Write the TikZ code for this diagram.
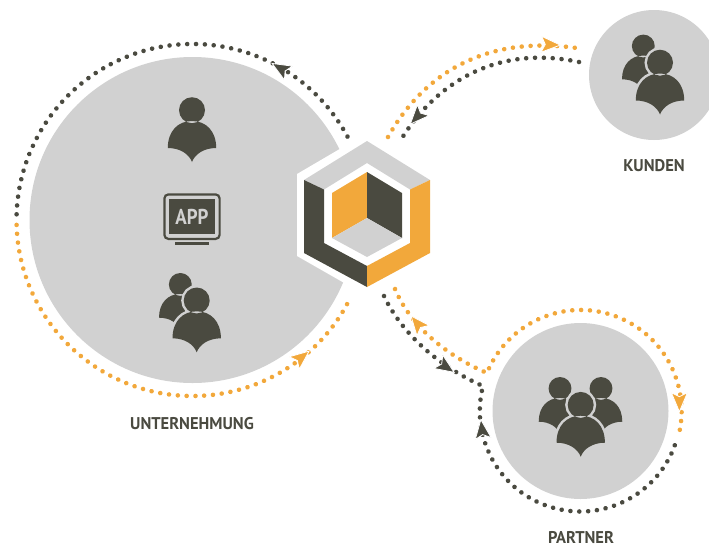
\documentclass[tikz,border=0pt]{standalone}
\usepackage{fontspec}
\setmainfont{PT Sans}
\usepackage{xcolor}
\usetikzlibrary{decorations.markings}
\definecolor{anthrazit}{rgb}{.29, .29, .25}
\definecolor{bernstein}{rgb}{.95, .66, .23}
\definecolor{hellgrau}{rgb}{.82, .82, .82}

\newcommand{\kopfbody}{(0,37.8) circle[radius=13]
	(-24.2,0) .. controls (-24.2,17) and (-14,27) .. (0,27)
	.. controls (14,27) and (24.2,17) .. (24.2,0)
	.. controls (12,0) and (3,-6) .. (0,-14)
	.. controls (-3,-6) and (-12,0) .. (-24.2,0) -- cycle}

\tikzset{
	dots/.style={decorate, decoration={markings,
		mark=between positions 0 and 1 step 8.85pt with {\fill[#1] (0,0) circle[radius=2.3];}}},
	kreis/.style={circle, fill=hellgrau, inner sep=0pt},
	titel/.style={anthrazit, font=\bfseries\fontsize{17}{17}\selectfont},
	pics/person/.style={code={
		\path[draw=hellgrau, fill=hellgrau, line width=5pt] \kopfbody;
		\fill[anthrazit] \kopfbody;
	}},
	pics/spitze/.style={code={
		\path[fill=#1, draw=white, line width=.8pt]
			(11,0) -- (-8,-8) -- (-4,0) -- (-8,8) -- cycle;
	}},
}

\begin{document}
\begin{tikzpicture}[x=1pt, y=1pt, yscale=-1]
	\useasboundingbox (0,0) rectangle (709,547);

	\node[kreis, minimum size=326pt] (unternehmung) at (192.5,220) {};
	\node[kreis, minimum size=130pt] (kunden) at (654,75) {};
	\node[kreis, minimum size=176pt] (partner) at (580.5,411) {};

	% ends of the curved links
	\coordinate (kundenA) at (388,137);
	\coordinate (kundenB) at (583,49);
	\coordinate (kundenC) at (579,62);
	\coordinate (kundenD) at (399,143);
	\coordinate (partnerA) at (395,289);
	\coordinate (partnerB) at (487,373);
	\coordinate (partnerC) at (384,296);
	\coordinate (partnerD) at (483,386);

	\path[dots=anthrazit] ([shift={(-28.3:176)}]unternehmung.center)
		arc[start angle=-28.3, end angle=-179, radius=176];
	\path[dots=bernstein] ([shift={(178.4:176)}]unternehmung.center)
		arc[start angle=178.4, end angle=25.7, radius=176];

	\path[dots=bernstein] (kundenA) .. controls (420,80) and (480,32) .. (kundenB);
	\path[dots=anthrazit] (kundenC) .. controls (490,43) and (430,90) .. (kundenD);

	\path[dots=bernstein] (partnerA) .. controls (410,325) and (445,355) .. (partnerB)
		arc[start angle=-157.9, end angle=13.8, radius=101];
	\path[dots=anthrazit] (partnerC) .. controls (400,330) and (435,365) .. (partnerD)
		arc[start angle=194.4, end angle=18.5, radius=100.5];

	\pic[rotate=149.6] at (281.6,69) {spitze=anthrazit};
	\pic[rotate=38.8] at (300.5,358) {spitze=bernstein};
	\pic[rotate=129.6] at (418,324.4) {spitze=bernstein};
	\pic[rotate=-33.7] at (445,366.2) {spitze=anthrazit};
	\pic[rotate=-2.4] at (549.3,44.6) {spitze=bernstein};
	\pic[rotate=-132.9] at (417.8,116) {spitze=anthrazit};
	\pic[rotate=-90] at (679.4,400.7) {spitze=bernstein};
	\pic[rotate=97] at (482.2,430.6) {spitze=anthrazit};

	% hexagon
	\fill[white] (367,133) -- (437,174) -- (437,256) -- (367,296) -- (297,256) -- (297,174) -- cycle;
	\fill[hellgrau] (367,141) -- (430,180) -- (410,189.5) -- (367,163) -- (324,189.5) -- (304,180) -- cycle;
	\fill[anthrazit] (304,180) -- (324,189.5) -- (324,243) -- (367,266) -- (367,287) -- (304,253) -- cycle;
	\fill[bernstein] (430,180) -- (410,189.5) -- (410,243) -- (367,266) -- (367,287) -- (430,253) -- cycle;
	\fill[bernstein] (367,172) -- (332,193) -- (332,238) -- (367,218) -- cycle;
	\fill[anthrazit] (367,172) -- (402,193) -- (402,238) -- (367,218) -- cycle;
	\fill[hellgrau] (367,218) -- (332,238) -- (367,257) -- (402,238) -- cycle;

	% people
	\pic at (192,148) {person};

	\pic[scale=.88] at (180.3,317.7) {person};
	\pic at (196.7,338.3) {person};

	\pic[scale=.88] at (643.3,79.3) {person};
	\pic at (660,100.5) {person};

	\pic[scale=.88] at (560,421.7) {person};
	\pic[scale=.88] at (601,421.7) {person};
	\pic at (580.7,442.7) {person};

	% screen
	\draw[anthrazit, line width=2.2pt, rounded corners=4pt] (164.4,194.4) rectangle (219.6,238.9);
	\fill[anthrazit] (169.3,199.3) rectangle (214.7,234);
	\draw[anthrazit, line width=2.2pt] (175,243.5) -- (209.3,243.5);
	\node[hellgrau, font=\bfseries\fontsize{21.5}{21.5}\selectfont] (app) at (192,216.5) {\scalebox{.88}[1]{APP}};

	\node[titel] (unternehmungText) at (192,424) {\scalebox{.97}[1]{UNTERNEHMUNG}};
	\node[titel] (kundenText) at (654,166) {\scalebox{.97}[1]{KUNDEN}};
	\node[titel] (partnerText) at (581,537) {\scalebox{.97}[1]{PARTNER}};
\end{tikzpicture}
\end{document}
